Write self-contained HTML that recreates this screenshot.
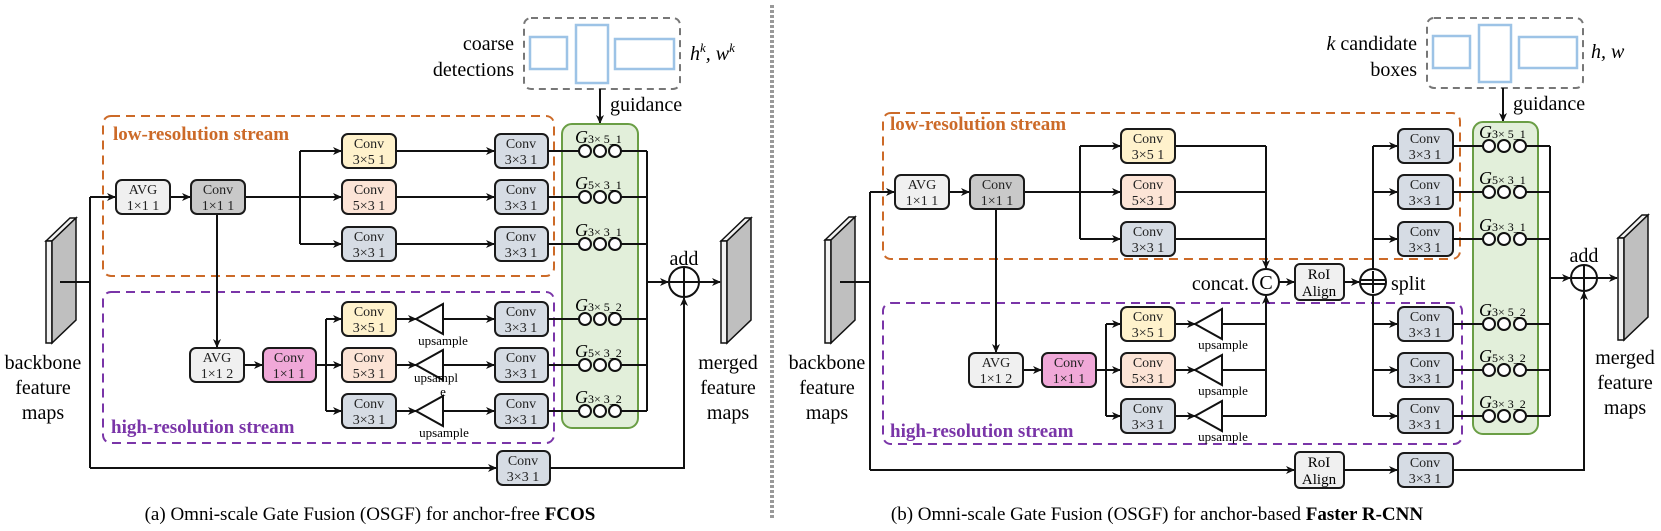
<!DOCTYPE html>
<html><head><meta charset="utf-8"><style>
body{margin:0;background:#fff}
svg{display:block}
svg text, svg tspan{font-family:"Liberation Serif","DejaVu Serif",serif}
.b{stroke:#1a1a1a;stroke-width:2}
.l{stroke:#111;stroke-width:2;fill:none}
.t{font-size:14px;text-anchor:middle;fill:#222}
.c{fill:#fff;stroke:#111;stroke-width:2}
</style></head><body>
<svg width="1661" height="531" viewBox="0 0 1661 531" xmlns="http://www.w3.org/2000/svg" font-family="Liberation Serif, serif">
<defs><marker id="a" markerWidth="10" markerHeight="10" refX="8" refY="4" orient="auto" markerUnits="userSpaceOnUse"><path d="M0,0 L9,4 L0,8 L2.5,4 z" fill="#111"/></marker></defs>

<line x1="772" y1="5" x2="772" y2="520" stroke="#999" stroke-width="4" stroke-dasharray="3,2"/>

<!-- ================= PANEL A ================= -->
<rect x="103" y="116" width="451" height="160" rx="8" fill="none" stroke="#cc6a28" stroke-width="2" stroke-dasharray="9,6"/>
<text x="113" y="140" font-size="19" font-weight="bold" fill="#cc6a28">low-resolution stream</text>
<rect x="103" y="292" width="451" height="151" rx="8" fill="none" stroke="#7a35a8" stroke-width="2" stroke-dasharray="9,6"/>
<text x="111" y="433" font-size="19" font-weight="bold" fill="#7a35a8">high-resolution stream</text>

<rect x="524" y="18" width="156" height="71" rx="7" fill="none" stroke="#777" stroke-width="2" stroke-dasharray="7,5"/>
<rect x="530" y="37" width="37" height="32" fill="none" stroke="#9dc3e6" stroke-width="2.5"/>
<rect x="576" y="25" width="32" height="58" fill="none" stroke="#9dc3e6" stroke-width="2.5"/>
<rect x="615" y="39" width="59" height="30" fill="none" stroke="#9dc3e6" stroke-width="2.5"/>
<text x="514" y="50" font-size="20" text-anchor="end">coarse</text>
<text x="514" y="76" font-size="20" text-anchor="end">detections</text>
<text x="690" y="60" font-size="20" font-style="italic">h<tspan font-size="13" dy="-8">k</tspan><tspan dy="8">, w</tspan><tspan font-size="13" dy="-8">k</tspan></text>
<line x1="600" y1="89" x2="600" y2="123" class="l" marker-end="url(#a)"/>
<text x="610" y="111" font-size="20">guidance</text>

<rect x="562" y="124" width="76" height="304" rx="10" fill="#e2efda" stroke="#6a9e45" stroke-width="2"/>

<polygon points="46,241 70,218 76,218 52,241" fill="#f2f2f2" stroke="#111" stroke-width="1.5"/>
<rect x="46" y="241" width="6" height="102" fill="#f2f2f2" stroke="#111" stroke-width="1.5"/>
<polygon points="52,241 76,218 76,320 52,343" fill="#bfbfbf" stroke="#111" stroke-width="1.5"/>
<text x="43" y="369" font-size="20" text-anchor="middle">backbone</text>
<text x="43" y="394" font-size="20" text-anchor="middle">feature</text>
<text x="43" y="419" font-size="20" text-anchor="middle">maps</text>

<path d="M60,282 H90 M90,197 V468" class="l"/>
<line x1="90" y1="197" x2="115" y2="197" class="l" marker-end="url(#a)"/>
<line x1="90" y1="468" x2="496" y2="468" class="l" marker-end="url(#a)"/>
<line x1="170" y1="197" x2="190" y2="197" class="l" marker-end="url(#a)"/>
<line x1="245" y1="197" x2="341" y2="197" class="l" marker-end="url(#a)"/>
<path d="M300,151 V244" class="l"/>
<line x1="300" y1="151" x2="341" y2="151" class="l" marker-end="url(#a)"/>
<line x1="300" y1="244" x2="341" y2="244" class="l" marker-end="url(#a)"/>
<line x1="396" y1="151" x2="494" y2="151" class="l" marker-end="url(#a)"/>
<line x1="396" y1="197" x2="494" y2="197" class="l" marker-end="url(#a)"/>
<line x1="396" y1="244" x2="494" y2="244" class="l" marker-end="url(#a)"/>
<line x1="217" y1="214" x2="217" y2="347" class="l" marker-end="url(#a)"/>
<line x1="244" y1="365" x2="262" y2="365" class="l" marker-end="url(#a)"/>
<line x1="316" y1="365" x2="341" y2="365" class="l" marker-end="url(#a)"/>
<path d="M326,319 V411" class="l"/>
<line x1="326" y1="319" x2="341" y2="319" class="l" marker-end="url(#a)"/>
<line x1="326" y1="411" x2="341" y2="411" class="l" marker-end="url(#a)"/>
<g class="l">
<line x1="396" y1="319" x2="416" y2="319" marker-end="url(#a)"/>
<line x1="396" y1="365" x2="416" y2="365" marker-end="url(#a)"/>
<line x1="396" y1="411" x2="416" y2="411" marker-end="url(#a)"/>
<line x1="443" y1="319" x2="494" y2="319" marker-end="url(#a)"/>
<line x1="443" y1="365" x2="494" y2="365" marker-end="url(#a)"/>
<line x1="443" y1="411" x2="494" y2="411" marker-end="url(#a)"/>
<polygon points="416,319 443,304 443,334" fill="#fff"/>
<polygon points="416,365 443,350 443,380" fill="#fff"/>
<polygon points="416,411 443,396 443,426" fill="#fff"/>
</g>
<text x="443" y="345" font-size="13" text-anchor="middle">upsample</text>
<text x="436" y="382" font-size="13" text-anchor="middle">upsampl</text>
<text x="443" y="396" font-size="13" text-anchor="middle">e</text>
<text x="444" y="437" font-size="13" text-anchor="middle">upsample</text>

<rect x="116" y="180" width="54" height="34" rx="6" fill="#f0f0f0" class="b"/><text x="143" y="194" class="t">AVG</text><text x="143" y="210" class="t">1×1 1</text>
<rect x="191" y="180" width="54" height="34" rx="6" fill="#c9c9c9" class="b"/><text x="218" y="194" class="t">Conv</text><text x="218" y="210" class="t">1×1 1</text>
<rect x="342" y="134" width="54" height="34" rx="6" fill="#fff2cc" class="b"/><text x="369" y="148" class="t">Conv</text><text x="369" y="164" class="t">3×5 1</text>
<rect x="342" y="180" width="54" height="34" rx="6" fill="#fce4d6" class="b"/><text x="369" y="194" class="t">Conv</text><text x="369" y="210" class="t">5×3 1</text>
<rect x="342" y="227" width="54" height="34" rx="6" fill="#d6dce4" class="b"/><text x="369" y="241" class="t">Conv</text><text x="369" y="257" class="t">3×3 1</text>
<rect x="495" y="134" width="53" height="34" rx="6" fill="#d6dce4" class="b"/><text x="521" y="148" class="t">Conv</text><text x="521" y="164" class="t">3×3 1</text>
<rect x="495" y="180" width="53" height="34" rx="6" fill="#d6dce4" class="b"/><text x="521" y="194" class="t">Conv</text><text x="521" y="210" class="t">3×3 1</text>
<rect x="495" y="227" width="53" height="34" rx="6" fill="#d6dce4" class="b"/><text x="521" y="241" class="t">Conv</text><text x="521" y="257" class="t">3×3 1</text>
<rect x="190" y="348" width="54" height="34" rx="6" fill="#f0f0f0" class="b"/><text x="217" y="362" class="t">AVG</text><text x="217" y="378" class="t">1×1 2</text>
<rect x="263" y="348" width="53" height="34" rx="6" fill="#f0a8d8" class="b"/><text x="289" y="362" class="t">Conv</text><text x="289" y="378" class="t">1×1 1</text>
<rect x="342" y="302" width="54" height="34" rx="6" fill="#fff2cc" class="b"/><text x="369" y="316" class="t">Conv</text><text x="369" y="332" class="t">3×5 1</text>
<rect x="342" y="348" width="54" height="34" rx="6" fill="#fce4d6" class="b"/><text x="369" y="362" class="t">Conv</text><text x="369" y="378" class="t">5×3 1</text>
<rect x="342" y="394" width="54" height="34" rx="6" fill="#d6dce4" class="b"/><text x="369" y="408" class="t">Conv</text><text x="369" y="424" class="t">3×3 1</text>
<rect x="495" y="302" width="53" height="34" rx="6" fill="#d6dce4" class="b"/><text x="521" y="316" class="t">Conv</text><text x="521" y="332" class="t">3×3 1</text>
<rect x="495" y="348" width="53" height="34" rx="6" fill="#d6dce4" class="b"/><text x="521" y="362" class="t">Conv</text><text x="521" y="378" class="t">3×3 1</text>
<rect x="495" y="394" width="53" height="34" rx="6" fill="#d6dce4" class="b"/><text x="521" y="408" class="t">Conv</text><text x="521" y="424" class="t">3×3 1</text>
<rect x="497" y="451" width="53" height="34" rx="6" fill="#d6dce4" class="b"/><text x="523" y="465" class="t">Conv</text><text x="523" y="481" class="t">3×3 1</text>

<path d="M548,151 H579 M548,197 H579 M548,244 H579 M548,319 H579 M548,365 H579 M548,411 H579 M621,151 H647 M621,197 H647 M621,244 H647 M621,319 H647 M621,365 H647 M621,411 H647 M647,151 V411" class="l"/>
<g class="c">
<circle cx="585" cy="151" r="6"/><circle cx="600" cy="151" r="6"/><circle cx="615" cy="151" r="6"/>
<circle cx="585" cy="197" r="6"/><circle cx="600" cy="197" r="6"/><circle cx="615" cy="197" r="6"/>
<circle cx="585" cy="244" r="6"/><circle cx="600" cy="244" r="6"/><circle cx="615" cy="244" r="6"/>
<circle cx="585" cy="319" r="6"/><circle cx="600" cy="319" r="6"/><circle cx="615" cy="319" r="6"/>
<circle cx="585" cy="365" r="6"/><circle cx="600" cy="365" r="6"/><circle cx="615" cy="365" r="6"/>
<circle cx="585" cy="411" r="6"/><circle cx="600" cy="411" r="6"/><circle cx="615" cy="411" r="6"/>
</g>
<g font-size="12">
<text x="575" y="143"><tspan font-size="18" font-style="italic">G</tspan>3× 5_1</text>
<text x="575" y="189"><tspan font-size="18" font-style="italic">G</tspan>5× 3_1</text>
<text x="575" y="236"><tspan font-size="18" font-style="italic">G</tspan>3× 3_1</text>
<text x="575" y="311"><tspan font-size="18" font-style="italic">G</tspan>3× 5_2</text>
<text x="575" y="357"><tspan font-size="18" font-style="italic">G</tspan>5× 3_2</text>
<text x="575" y="403"><tspan font-size="18" font-style="italic">G</tspan>3× 3_2</text>
</g>
<line x1="647" y1="282" x2="668" y2="282" class="l" marker-end="url(#a)"/>
<line x1="699" y1="282" x2="720" y2="282" class="l" marker-end="url(#a)"/>
<path d="M550,468 H684 V298" class="l" marker-end="url(#a)"/>
<circle cx="684" cy="282" r="15" class="c"/>
<path d="M669,282 H699 M684,267 V297" class="l"/>
<text x="684" y="265" font-size="20" text-anchor="middle">add</text>
<polygon points="721,241 745,218 751,218 727,241" fill="#f2f2f2" stroke="#111" stroke-width="1.5"/>
<rect x="721" y="241" width="6" height="102" fill="#f2f2f2" stroke="#111" stroke-width="1.5"/>
<polygon points="727,241 751,218 751,320 727,343" fill="#bfbfbf" stroke="#111" stroke-width="1.5"/>
<text x="728" y="369" font-size="20" text-anchor="middle">merged</text>
<text x="728" y="394" font-size="20" text-anchor="middle">feature</text>
<text x="728" y="419" font-size="20" text-anchor="middle">maps</text>

<text x="370" y="520" font-size="19" text-anchor="middle">(a) Omni-scale Gate Fusion (OSGF) for anchor-free <tspan font-weight="bold">FCOS</tspan></text>

<!-- ================= PANEL B ================= -->
<rect x="883" y="113" width="577" height="146" rx="8" fill="none" stroke="#cc6a28" stroke-width="2" stroke-dasharray="9,6"/>
<text x="890" y="130" font-size="19" font-weight="bold" fill="#cc6a28">low-resolution stream</text>
<rect x="883" y="303" width="579" height="141" rx="8" fill="none" stroke="#7a35a8" stroke-width="2" stroke-dasharray="9,6"/>
<text x="890" y="437" font-size="19" font-weight="bold" fill="#7a35a8">high-resolution stream</text>

<rect x="1427" y="18" width="156" height="70" rx="7" fill="none" stroke="#777" stroke-width="2" stroke-dasharray="7,5"/>
<rect x="1433" y="36" width="37" height="32" fill="none" stroke="#9dc3e6" stroke-width="2.5"/>
<rect x="1479" y="25" width="32" height="57" fill="none" stroke="#9dc3e6" stroke-width="2.5"/>
<rect x="1519" y="37" width="58" height="31" fill="none" stroke="#9dc3e6" stroke-width="2.5"/>
<text x="1417" y="50" font-size="20" text-anchor="end"><tspan font-style="italic">k</tspan> candidate</text>
<text x="1417" y="76" font-size="20" text-anchor="end">boxes</text>
<text x="1591" y="58" font-size="20" font-style="italic">h, w</text>
<line x1="1503" y1="88" x2="1503" y2="121" class="l" marker-end="url(#a)"/>
<text x="1513" y="110" font-size="20">guidance</text>

<rect x="1473" y="122" width="65" height="312" rx="10" fill="#e2efda" stroke="#6a9e45" stroke-width="2"/>

<polygon points="825,240 849,217 855,217 831,240" fill="#f2f2f2" stroke="#111" stroke-width="1.5"/>
<rect x="825" y="240" width="6" height="103" fill="#f2f2f2" stroke="#111" stroke-width="1.5"/>
<polygon points="831,240 855,217 855,320 831,343" fill="#bfbfbf" stroke="#111" stroke-width="1.5"/>
<text x="827" y="369" font-size="20" text-anchor="middle">backbone</text>
<text x="827" y="394" font-size="20" text-anchor="middle">feature</text>
<text x="827" y="419" font-size="20" text-anchor="middle">maps</text>

<path d="M840,282 H870 M870,192 V470" class="l"/>
<line x1="870" y1="192" x2="894" y2="192" class="l" marker-end="url(#a)"/>
<line x1="870" y1="470" x2="1294" y2="470" class="l" marker-end="url(#a)"/>
<line x1="949" y1="192" x2="969" y2="192" class="l" marker-end="url(#a)"/>
<line x1="1024" y1="192" x2="1120" y2="192" class="l" marker-end="url(#a)"/>
<path d="M1080,146 V239" class="l"/>
<line x1="1080" y1="146" x2="1120" y2="146" class="l" marker-end="url(#a)"/>
<line x1="1080" y1="239" x2="1120" y2="239" class="l" marker-end="url(#a)"/>
<path d="M1175,146 H1266 M1175,192 H1266 M1175,239 H1266" class="l"/>
<line x1="1266" y1="146" x2="1266" y2="268" class="l" marker-end="url(#a)"/>
<line x1="996" y1="209" x2="996" y2="352" class="l" marker-end="url(#a)"/>
<line x1="1023" y1="370" x2="1041" y2="370" class="l" marker-end="url(#a)"/>
<line x1="1096" y1="370" x2="1120" y2="370" class="l" marker-end="url(#a)"/>
<path d="M1106,324 V416" class="l"/>
<line x1="1106" y1="324" x2="1120" y2="324" class="l" marker-end="url(#a)"/>
<line x1="1106" y1="416" x2="1120" y2="416" class="l" marker-end="url(#a)"/>
<g class="l">
<line x1="1175" y1="324" x2="1195" y2="324" marker-end="url(#a)"/>
<line x1="1175" y1="370" x2="1195" y2="370" marker-end="url(#a)"/>
<line x1="1175" y1="416" x2="1195" y2="416" marker-end="url(#a)"/>
<path d="M1222,324 H1266 M1222,370 H1266 M1222,416 H1266"/>
<polygon points="1195,324 1222,309 1222,339" fill="#fff"/>
<polygon points="1195,370 1222,355 1222,385" fill="#fff"/>
<polygon points="1195,416 1222,401 1222,431" fill="#fff"/>
</g>
<line x1="1266" y1="416" x2="1266" y2="296" class="l" marker-end="url(#a)"/>
<text x="1223" y="349" font-size="13" text-anchor="middle">upsample</text>
<text x="1223" y="395" font-size="13" text-anchor="middle">upsample</text>
<text x="1223" y="441" font-size="13" text-anchor="middle">upsample</text>

<circle cx="1266" cy="282" r="13" class="c"/>
<text x="1266" y="289" font-size="20" text-anchor="middle">C</text>
<text x="1249" y="290" font-size="20" text-anchor="end">concat.</text>
<line x1="1279" y1="282" x2="1294" y2="282" class="l" marker-end="url(#a)"/>
<rect x="1295" y="264" width="49" height="36" rx="5" fill="#f0f0f0" class="b"/>
<text x="1319" y="279" font-size="15" text-anchor="middle">RoI</text><text x="1319" y="296" font-size="15" text-anchor="middle">Align</text>
<line x1="1344" y1="282" x2="1359" y2="282" class="l" marker-end="url(#a)"/>
<path d="M1373,146 V269 M1373,295 V416" class="l"/>
<circle cx="1373" cy="282" r="13" class="c"/>
<path d="M1360,280 H1386 M1360,284 H1386 M1373,271 V293" class="l" stroke-width="1.5"/>
<text x="1391" y="290" font-size="20">split</text>
<g class="l">
<line x1="1373" y1="146" x2="1397" y2="146" marker-end="url(#a)"/>
<line x1="1373" y1="192" x2="1397" y2="192" marker-end="url(#a)"/>
<line x1="1373" y1="239" x2="1397" y2="239" marker-end="url(#a)"/>
<line x1="1373" y1="324" x2="1397" y2="324" marker-end="url(#a)"/>
<line x1="1373" y1="370" x2="1397" y2="370" marker-end="url(#a)"/>
<line x1="1373" y1="416" x2="1397" y2="416" marker-end="url(#a)"/>
</g>

<rect x="895" y="175" width="54" height="34" rx="6" fill="#f0f0f0" class="b"/><text x="922" y="189" class="t">AVG</text><text x="922" y="205" class="t">1×1 1</text>
<rect x="970" y="175" width="54" height="34" rx="6" fill="#c9c9c9" class="b"/><text x="997" y="189" class="t">Conv</text><text x="997" y="205" class="t">1×1 1</text>
<rect x="1121" y="129" width="54" height="34" rx="6" fill="#fff2cc" class="b"/><text x="1148" y="143" class="t">Conv</text><text x="1148" y="159" class="t">3×5 1</text>
<rect x="1121" y="175" width="54" height="34" rx="6" fill="#fce4d6" class="b"/><text x="1148" y="189" class="t">Conv</text><text x="1148" y="205" class="t">5×3 1</text>
<rect x="1121" y="222" width="54" height="34" rx="6" fill="#d6dce4" class="b"/><text x="1148" y="236" class="t">Conv</text><text x="1148" y="252" class="t">3×3 1</text>
<rect x="969" y="353" width="54" height="34" rx="6" fill="#f0f0f0" class="b"/><text x="996" y="367" class="t">AVG</text><text x="996" y="383" class="t">1×1 2</text>
<rect x="1042" y="353" width="54" height="34" rx="6" fill="#f0a8d8" class="b"/><text x="1069" y="367" class="t">Conv</text><text x="1069" y="383" class="t">1×1 1</text>
<rect x="1121" y="307" width="54" height="34" rx="6" fill="#fff2cc" class="b"/><text x="1148" y="321" class="t">Conv</text><text x="1148" y="337" class="t">3×5 1</text>
<rect x="1121" y="353" width="54" height="34" rx="6" fill="#fce4d6" class="b"/><text x="1148" y="367" class="t">Conv</text><text x="1148" y="383" class="t">5×3 1</text>
<rect x="1121" y="399" width="54" height="34" rx="6" fill="#d6dce4" class="b"/><text x="1148" y="413" class="t">Conv</text><text x="1148" y="429" class="t">3×3 1</text>
<rect x="1398" y="129" width="55" height="34" rx="6" fill="#d6dce4" class="b"/><text x="1425" y="143" class="t">Conv</text><text x="1425" y="159" class="t">3×3 1</text>
<rect x="1398" y="175" width="55" height="34" rx="6" fill="#d6dce4" class="b"/><text x="1425" y="189" class="t">Conv</text><text x="1425" y="205" class="t">3×3 1</text>
<rect x="1398" y="222" width="55" height="34" rx="6" fill="#d6dce4" class="b"/><text x="1425" y="236" class="t">Conv</text><text x="1425" y="252" class="t">3×3 1</text>
<rect x="1398" y="307" width="55" height="34" rx="6" fill="#d6dce4" class="b"/><text x="1425" y="321" class="t">Conv</text><text x="1425" y="337" class="t">3×3 1</text>
<rect x="1398" y="353" width="55" height="34" rx="6" fill="#d6dce4" class="b"/><text x="1425" y="367" class="t">Conv</text><text x="1425" y="383" class="t">3×3 1</text>
<rect x="1398" y="399" width="55" height="34" rx="6" fill="#d6dce4" class="b"/><text x="1425" y="413" class="t">Conv</text><text x="1425" y="429" class="t">3×3 1</text>
<rect x="1295" y="452" width="49" height="36" rx="5" fill="#f0f0f0" class="b"/>
<text x="1319" y="467" font-size="15" text-anchor="middle">RoI</text><text x="1319" y="484" font-size="15" text-anchor="middle">Align</text>
<line x1="1344" y1="470" x2="1397" y2="470" class="l" marker-end="url(#a)"/>
<rect x="1398" y="453" width="55" height="34" rx="6" fill="#d6dce4" class="b"/><text x="1425" y="467" class="t">Conv</text><text x="1425" y="483" class="t">3×3 1</text>

<path d="M1453,146 H1483 M1453,192 H1483 M1453,239 H1483 M1453,324 H1483 M1453,370 H1483 M1453,416 H1483 M1526,146 H1550 M1526,192 H1550 M1526,239 H1550 M1526,324 H1550 M1526,370 H1550 M1526,416 H1550 M1550,146 V416" class="l"/>
<g class="c">
<circle cx="1489" cy="146" r="6"/><circle cx="1504" cy="146" r="6"/><circle cx="1520" cy="146" r="6"/>
<circle cx="1489" cy="192" r="6"/><circle cx="1504" cy="192" r="6"/><circle cx="1520" cy="192" r="6"/>
<circle cx="1489" cy="239" r="6"/><circle cx="1504" cy="239" r="6"/><circle cx="1520" cy="239" r="6"/>
<circle cx="1489" cy="324" r="6"/><circle cx="1504" cy="324" r="6"/><circle cx="1520" cy="324" r="6"/>
<circle cx="1489" cy="370" r="6"/><circle cx="1504" cy="370" r="6"/><circle cx="1520" cy="370" r="6"/>
<circle cx="1489" cy="416" r="6"/><circle cx="1504" cy="416" r="6"/><circle cx="1520" cy="416" r="6"/>
</g>
<g font-size="12">
<text x="1479" y="138"><tspan font-size="18" font-style="italic">G</tspan>3× 5_1</text>
<text x="1479" y="184"><tspan font-size="18" font-style="italic">G</tspan>5× 3_1</text>
<text x="1479" y="231"><tspan font-size="18" font-style="italic">G</tspan>3× 3_1</text>
<text x="1479" y="316"><tspan font-size="18" font-style="italic">G</tspan>3× 5_2</text>
<text x="1479" y="362"><tspan font-size="18" font-style="italic">G</tspan>5× 3_2</text>
<text x="1479" y="408"><tspan font-size="18" font-style="italic">G</tspan>3× 3_2</text>
</g>
<line x1="1550" y1="278" x2="1570" y2="278" class="l" marker-end="url(#a)"/>
<line x1="1597" y1="278" x2="1617" y2="278" class="l" marker-end="url(#a)"/>
<path d="M1453,470 H1584 V292" class="l" marker-end="url(#a)"/>
<circle cx="1584" cy="278" r="13" class="c"/>
<path d="M1571,278 H1597 M1584,265 V291" class="l"/>
<text x="1584" y="262" font-size="20" text-anchor="middle">add</text>
<polygon points="1618,238 1642,215 1648,215 1624,238" fill="#f2f2f2" stroke="#111" stroke-width="1.5"/>
<rect x="1618" y="238" width="6" height="102" fill="#f2f2f2" stroke="#111" stroke-width="1.5"/>
<polygon points="1624,238 1648,215 1648,317 1624,340" fill="#bfbfbf" stroke="#111" stroke-width="1.5"/>
<text x="1625" y="364" font-size="20" text-anchor="middle">merged</text>
<text x="1625" y="389" font-size="20" text-anchor="middle">feature</text>
<text x="1625" y="414" font-size="20" text-anchor="middle">maps</text>

<text x="1157" y="520" font-size="19" text-anchor="middle">(b) Omni-scale Gate Fusion (OSGF) for anchor-based <tspan font-weight="bold">Faster R-CNN</tspan></text>
</svg>
</body></html>
